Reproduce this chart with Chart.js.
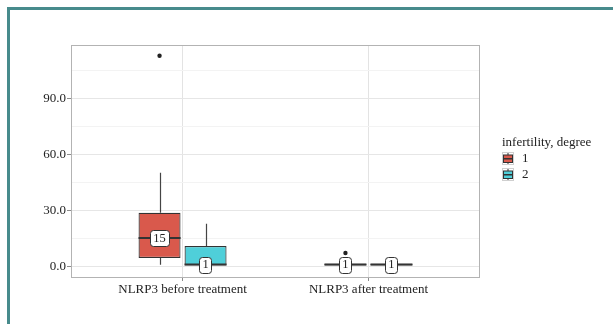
<!DOCTYPE html>
<html>
<head>
<meta charset="utf-8">
<script src="https://cdn.jsdelivr.net/npm/chart.js@4.4.0/dist/chart.umd.min.js"></script>
<style>
  html, body { margin: 0; padding: 0; background: #fff; overflow: hidden; }
  #wrap { position: relative; width: 613px; height: 324px; overflow: hidden; }
  #frame { position: absolute; left: 7px; top: 7px; width: 700px; height: 400px; border: 3px solid #478b8c; box-sizing: border-box; }
  canvas { position: absolute; left: 0; top: 0; }
</style>
</head>
<body>
<div id="wrap">
  <div id="frame"></div>
  <canvas id="chart" width="613" height="324"></canvas>
</div>
<script>
const categories = ["NLRP3 before treatment", "NLRP3 after treatment"];
const degrees = ["1", "2"];
const yTicks = [0, 15, 30, 45, 60, 75, 90, 105];

// infertility degree 1
const lowDeg1 = [0.9, 0.2];
const q1Deg1 = [4.5, 0.5];
const medDeg1 = [15.2, 1.0];
const q3Deg1 = [28.8, 1.5];
const highDeg1 = [50.2, 2.0];
const outDeg1 = [[112.9], [7.2]];

// infertility degree 2
const lowDeg2 = [0.0, 0.2];
const q1Deg2 = [0.5, 0.5];
const medDeg2 = [1.0, 1.0];
const q3Deg2 = [10.9, 1.5];
const highDeg2 = [22.9, 2.0];
const outDeg2 = [[], []];

const colors = ["#d9594c", "#4fcfd9"];
const lineCol = "#333";

const boxes = [
  {low: lowDeg1, q1: q1Deg1, med: medDeg1, q3: q3Deg1, high: highDeg1, out: outDeg1},
  {low: lowDeg2, q1: q1Deg2, med: medDeg2, q3: q3Deg2, high: highDeg2, out: outDeg2}
];

Chart.defaults.font.family = '"Liberation Serif", "DejaVu Serif", serif';

function roundRect(ctx, x, y, w, h, r) {
  ctx.beginPath();
  ctx.moveTo(x + r, y);
  ctx.arcTo(x + w, y, x + w, y + h, r);
  ctx.arcTo(x + w, y + h, x, y + h, r);
  ctx.arcTo(x, y + h, x, y, r);
  ctx.arcTo(x, y, x + w, y, r);
  ctx.closePath();
}

const boxPlugin = {
  id: "boxParts",
  beforeDatasetsDraw(chart) {
    const ctx = chart.ctx, ys = chart.scales.y;
    ctx.save();
    ctx.strokeStyle = "#444";
    ctx.lineWidth = 1.2;
    boxes.forEach((s, di) => {
      chart.getDatasetMeta(di).data.forEach((bar, i) => {
        const x = Math.round(bar.x) + 0.5;
        ctx.beginPath();
        ctx.moveTo(x, ys.getPixelForValue(s.high[i]));
        ctx.lineTo(x, ys.getPixelForValue(s.q3[i]));
        ctx.moveTo(x, ys.getPixelForValue(s.q1[i]));
        ctx.lineTo(x, ys.getPixelForValue(s.low[i]));
        ctx.stroke();
      });
    });
    ctx.restore();
  },
  afterDatasetsDraw(chart) {
    const ctx = chart.ctx, ys = chart.scales.y, a = chart.chartArea;
    ctx.save();
    // medians and outliers
    boxes.forEach((s, di) => {
      chart.getDatasetMeta(di).data.forEach((bar, i) => {
        const y = ys.getPixelForValue(s.med[i]);
        ctx.strokeStyle = lineCol;
        ctx.lineWidth = 2;
        ctx.beginPath();
        ctx.moveTo(bar.x - bar.width / 2, y);
        ctx.lineTo(bar.x + bar.width / 2, y);
        ctx.stroke();
        ctx.fillStyle = "#222";
        s.out[i].forEach(v => {
          ctx.beginPath();
          ctx.arc(bar.x, ys.getPixelForValue(v), 2.2, 0, Math.PI * 2);
          ctx.fill();
        });
      });
    });
    // median labels
    ctx.font = '12.5px "Liberation Serif", serif';
    ctx.textAlign = "center";
    ctx.textBaseline = "middle";
    boxes.forEach((s, di) => {
      chart.getDatasetMeta(di).data.forEach((bar, i) => {
        const y = ys.getPixelForValue(s.med[i]);
        const txt = String(Math.round(s.med[i]));
        const w = ctx.measureText(txt).width + 6, h = 16;
        roundRect(ctx, Math.round(bar.x - w / 2) + 0.5, Math.round(y - h / 2) + 0.5, Math.round(w), h, 3);
        ctx.fillStyle = "#fff";
        ctx.fill();
        ctx.strokeStyle = lineCol;
        ctx.lineWidth = 1;
        ctx.stroke();
        ctx.fillStyle = "#222";
        ctx.fillText(txt, bar.x, y + 0.5);
      });
    });
    // panel border
    ctx.strokeStyle = "#b3b3b3";
    ctx.lineWidth = 1;
    ctx.strokeRect(a.left + 0.5, a.top + 0.5, a.right - a.left - 1, a.bottom - a.top);
    ctx.restore();
  },
  afterDraw(chart) {
    const ctx = chart.ctx, a = chart.chartArea;
    const lx = a.right + 22, ty = 143;
    ctx.save();
    ctx.font = '13px "Liberation Serif", serif';
    ctx.fillStyle = "#222";
    ctx.textBaseline = "middle";
    ctx.textAlign = "left";
    ctx.fillText("infertility, degree", lx, ty);
    degrees.forEach((d, i) => {
      const ky = 152 + i * 16;
      ctx.strokeStyle = "#cfcfcf";
      ctx.lineWidth = 1;
      ctx.strokeRect(lx + 0.5, ky + 0.5, 11, 12);
      ctx.strokeStyle = lineCol;
      ctx.beginPath();
      ctx.moveTo(lx + 6, ky + 1);
      ctx.lineTo(lx + 6, ky + 12);
      ctx.stroke();
      ctx.fillStyle = colors[i];
      ctx.fillRect(lx + 1.5, ky + 3, 9, 7.5);
      ctx.strokeRect(lx + 1.5, ky + 3, 9, 7.5);
      ctx.lineWidth = 1.5;
      ctx.beginPath();
      ctx.moveTo(lx + 1.5, ky + 6.75);
      ctx.lineTo(lx + 10.5, ky + 6.75);
      ctx.stroke();
      ctx.fillStyle = "#222";
      ctx.fillText(d, lx + 20, ky + 6.5);
    });
    ctx.restore();
  }
};

new Chart(document.getElementById("chart").getContext("2d"), {
  type: "bar",
  data: {
    datasets: boxes.map((s, di) => ({
      label: degrees[di],
      data: categories.map((c, i) => ({x: i + 1, y: [s.q1[i], s.q3[i]]})),
      backgroundColor: colors[di],
      borderColor: lineCol,
      borderWidth: 1.2,
      borderSkipped: false,
      categoryPercentage: 0.495,
      barPercentage: 0.913
    }))
  },
  options: {
    responsive: false,
    animation: false,
    devicePixelRatio: 1,
    layout: { padding: { left: 0, top: 45, right: 133, bottom: 0 } },
    plugins: { legend: { display: false }, tooltip: { enabled: false } },
    scales: {
      x: {
        type: "linear",
        min: 0.4,
        max: 2.6,
        offset: false,
        afterBuildTicks: s => { s.ticks = categories.map((c, i) => ({value: i + 1})); },
        afterFit: s => { s.height = 47; },
        ticks: {
          callback: (v, i) => categories[i],
          color: "#222",
          font: { size: 13 },
          padding: 1,
          autoSkip: false,
          maxRotation: 0
        },
        grid: { offset: false, color: "#e3e3e3", tickColor: "#8c8c8c", tickLength: 4 },
        border: { display: false }
      },
      y: {
        min: -5.65,
        max: 118.65,
        afterBuildTicks: s => { s.ticks = yTicks.map(v => ({value: v})); },
        afterFit: s => { s.width = 71; },
        ticks: {
          callback: v => v % 30 === 0 ? v.toFixed(1) : "",
          color: "#222",
          font: { size: 13 },
          padding: 1,
          autoSkip: false
        },
        grid: {
          color: c => c.tick && c.tick.value % 30 === 0 ? "#e6e6e6" : "#f3f3f3",
          tickColor: c => c.tick && c.tick.value % 30 === 0 ? "#8c8c8c" : "rgba(0,0,0,0)",
          tickLength: 4
        },
        border: { display: false }
      }
    }
  },
  plugins: [boxPlugin]
});
</script>
</body>
</html>
